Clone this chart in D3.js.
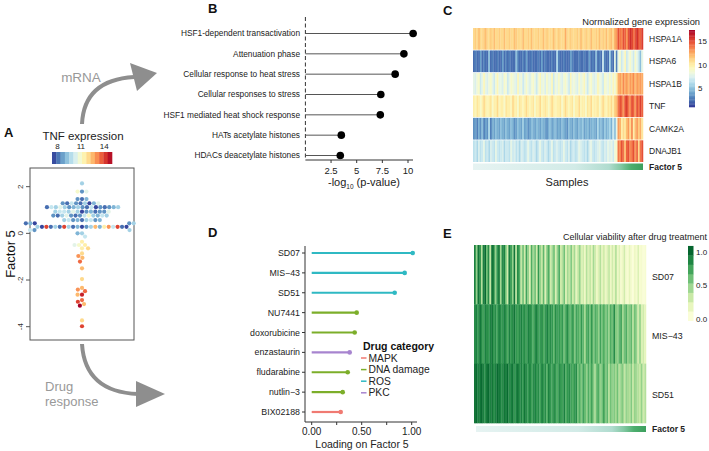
<!DOCTYPE html>
<html><head><meta charset="utf-8">
<script src="https://cdn.jsdelivr.net/npm/d3@7"></script>
<style>body{margin:0;background:#fff} svg{display:block;font-family:"Liberation Sans",Arial,Helvetica,sans-serif}</style>
</head><body>
<svg id="c" width="709" height="451"></svg>
<script>
// ---------- Panel A data (Factor 5 value, TNF expression) ----------
const factor5 = [
 0.28,0.28,0.28,0.28,0.28,0.28,0.28,0.28,0.28,0.28,0.28,0.28,0.28,0.28,0.28,0.28,0.28,0.28,0.28,0.28,0.28,
 2.14,
 1.79,1.79,1.79,
 1.47,1.47,1.47,
 1.29,1.29,1.29,1.29,1.29,1.29,1.29,1.29,1.29,
 1.12,1.12,1.12,1.12,1.12,1.12,1.12,1.12,1.12,1.12,1.12,1.12,1.12,1.12,1.12,1.12,1.12,
 0.93,0.93,0.93,0.93,0.93,0.93,0.93,0.93,0.93,0.93,0.93,0.93,0.93,
 0.76,0.76,0.76,0.76,0.76,0.76,0.76,0.76,0.76,0.76,0.76,0.76,0.76,
 0.57,0.57,0.57,0.57,0.57,0.57,0.57,0.57,0.57,
 0.43,0.43,0.43,0.43,0.43,
 0.14,0.14,0.14,
 0.00,0.00,
 -0.14,
 -0.36,-0.50,-0.50,-0.50,-0.64,-0.64,
 -0.86,-0.97,-1.05,-1.21,-1.50,-1.96,-2.34,-2.41,-2.48,-2.63,-2.63,-2.86,-2.93,-3.03,-3.10,-3.73,-3.98];
const tnf = [
 7.5,9,8.5,8,9.5,9.5,12.5,14,9,8,11.5,9.5,13,8,10,14,14,7.5,8,9.5,7.5,
 9.5,
 8.5,11,10.5,
 8,8.5,9,
 8,9.5,8.5,7.5,10,9,8,10.5,8.5,
 8.5,9.5,8,9,10,8.5,7.5,9.5,8.5,10.5,8,9.5,8.5,10,9,8,9.5,
 7.5,9.5,8.5,10.5,9,9.5,8,10,8.5,10,8.5,9.5,10.5,
 8.5,10,8,11,8.5,9.5,10.5,9,9.5,10,8,9.5,8.5,
 8,9,9.5,8.5,10,10,8.5,9.5,9,
 7.5,8.5,9,9.5,8,
 8.5,9.5,10,
 9.5,9,
 10,
 11.5,11,11.5,10.5,11.5,12,
 12,13,12.5,13.5,12.5,12,12.5,13,13.5,14.5,12.5,13.5,14,12.5,15,12,14];
const tnfTicks = [8,11,14];
const factorTicks = [2,0,-2,-4];

// ---------- Panel B data ----------
const pathways = ["HSF1-dependent transactivation","Attenuation phase","Cellular response to heat stress",
 "Cellular responses to stress","HSF1 mediated heat shock response","HATs acetylate histones","HDACs deacetylate histones"];
const negLogP = [10.5,9.6,8.75,7.35,7.3,3.5,3.4];
const pTicks = [2.5,5,7.5,10];

// ---------- Panel C data ----------
const genes = ["HSPA1A","HSPA6","HSPA1B","TNF","CAMK2A","DNAJB1"];
const hspa1a = [11,11.5,11,12,11,11,11.5,12,11,11,11.5,11,12,11,11,11.5,11,11,12,11,
 11,11.5,11,11,12,11.5,11,11,11,12,11,11,11.5,11,12,11,11,11,11.5,11,
 11,12,11,11.5,11,11,11,12,11,11,11.5,11,11,11,12.5,11,11,11.5,11,11,
 11,11.5,11,12,11,11,11.5,11,11,12,11,11,11.5,11,12,11,11.5,11,12,11,
 11.5,12,11,12.5,13,15,14,13.5,15,14.5,13,15,16,15.5,14,15,16,15,14.5,15.5];
const hspa6 = [2.5,3,2.5,2.5,4,2.5,3,2.5,2.5,5,2.5,3,2.5,2.5,3,2.5,2.5,4,2.5,3,
 2.5,3,2.5,2.5,2.5,5,3,2.5,2.5,3,2.5,4,2.5,2.5,3,2.5,2.5,2.5,3,2.5,
 4,2.5,3,2.5,2.5,2.5,3,2.5,2.5,6,3,2.5,2.5,3,2.5,2.5,2.5,4,3,2.5,
 2.5,2.5,3,2.5,2.5,3,2.5,2.5,4,2.5,3,2.5,5,2.5,3,2.5,7,3,2.5,2.5,
 6,3,2.5,8,3,8,9,7,8,9.5,7,8,9,8,7,9,8,7,5,8];
const hspa1b = [8,7.5,8.5,9,7,8,9.5,8,7.5,8.5,9,8,7,8.5,9.5,8,8,7.5,9,8.5,
 7,8,9,8.5,8,7.5,9.5,8,8.5,7,8,9,8,7.5,8.5,9,8,7,8.5,9.5,
 8,8.5,7.5,9,8,8,9.5,7,8.5,8,9,8,7.5,8.5,9,8,7,9.5,8,8.5,
 8,7.5,9,8,8.5,9.5,8,7,8.5,9,8,7.5,8,9.5,8.5,8,7,9,8.5,8,
 9,8,9.5,8.5,10,12.5,13,12,13.5,12.5,13,12,13,12.5,13.5,12,13,12.5,13,12.5];
const tnfRow = [10,9.5,10.5,10,9,10,11,10,9.5,10,10.5,9,10,10,11,9.5,10,10,9,10.5,
 10,10,9.5,11,10,10,9,10.5,10,9.5,10,11,10,9.5,10,10.5,9,10,10,11,
 9.5,10,10.5,10,9,10,11,10,9.5,10,10,10.5,9,10,11,10,9.5,10,10.5,9,
 10,10,11,9.5,10,10,9,10.5,10,11,9.5,10,10,10.5,9,10,11,10,9.5,10.5,
 10,11,10,11.5,12,14,15,14.5,13,15,15.5,14,13.5,15,14.5,13,15,14,15.5,14.5];
const camk2a = [3.5,4,3,4.5,3.5,5,3,4,3.5,6,3,4.5,4,5,4.5,4,5,4.5,4,5,
 4.5,4,5,4.5,3.5,4,5,4.5,4,5.5,4,4.5,3.5,4,5,4.5,4,5,4.5,4,
 5,4.5,4,3.5,4.5,5,4,4.5,5,4,4.5,4,5,4.5,4,3.5,5,4.5,4,5,
 4.5,4,5,4.5,5.5,4,4.5,5,4,4.5,5,4.5,4,6,4.5,5,4,5.5,4.5,5,
 6,4.5,7,5,8,13,12.5,10,11,10.5,12,13,11,13.5,10,12,13,11.5,12.5,10.5];
const dnajb1 = [6.5,7,6,7.5,6.5,7,8,6.5,7,6,7.5,7,6.5,8,7,6.5,7,7.5,6,7,
 7,6.5,8,7,7.5,6.5,7,6,7.5,7,6.5,7,8,7,6.5,7.5,7,6,7,8,
 7,6.5,7.5,7,6,7,8,6.5,7,7.5,7,6.5,7,8,7,6.5,7.5,6,7,7,
 6.5,7,8,7.5,7,6.5,7,6,7.5,8,7,6.5,7,7.5,8,7,6.5,7.5,7,8,
 7.5,8,7,8.5,9,14,13.5,15,14,12,14.5,15,13.5,14,15,13,14.5,11,14,15];
const exprTicks = [15,10,5];

// ---------- Panel D data ----------
const drugs = ["SD07","MIS\u221243","SD51","NU7441","doxorubicine","enzastaurin","fludarabine","nutlin\u22123","BIX02188"];
const loadings = [1.01,0.93,0.83,0.45,0.43,0.38,0.36,0.31,0.29];
const drugCat = ["ROS","ROS","ROS","DNA damage","DNA damage","PKC","DNA damage","DNA damage","MAPK"];
const categories = ["MAPK","DNA damage","ROS","PKC"];
const loadTicks = [0,0.25,0.5,0.75,1];

// ---------- Panel E data ----------
const eDrugs = ["SD07","MIS\u221243","SD51"];
const sd07 = [.9,.5,.95,.85,.4,.9,1,.6,.85,.35,.95,.9,.5,.8,.95,.45,.85,.9,.6,.3,.9,.8,.5,.95,.4,.85,.7,.35,
 .6,.3,.75,.5,.25,.7,.45,.6,.3,.8,.5,.35,.65,.25,.55,.7,.3,.45,.6,.25,.5,.7,.3,.4,.6,.25,.45,.35,.55,
 .3,.45,.2,.35,.5,.25,.3,.15,.4,.25,.35,.2,.45,.3,.15,.25,.4,.2,.3,.15,.25,.35,.15,.3,.2,.4,.15,.25,
 .1,.15,.3,.1,.08,.2,.1,.05,.15,.1,.25,.08,.1,.05,.08];
const mis43 = [.85,.9,.8,.95,.85,.75,.9,.85,.8,.9,.95,.8,.85,.75,.9,.85,.8,.9,.85,.7,.9,.8,.85,.95,.8,.75,.85,.9,.8,.85,
 .75,.9,.85,.8,.7,.85,.9,.75,.8,.85,.7,.8,.9,.75,.85,.8,.65,.85,.75,.8,
 .7,.8,.6,.75,.85,.65,.7,.8,.55,.75,.7,.6,.8,.65,.45,.7,.75,.6,.8,.55,.7,.65,.5,.75,.6,.7,.55,.65,.5,.7,
 .6,.85,.55,.5,.65,.75,.45,.6,.7,.5,.55,.65,.4,.6,.5,.3,.5,.25,.3,.2];
const sd51 = [.95,1,.9,.95,1,.9,.85,.95,1,.9,.95,.85,.9,1,.95,.9,.85,.95,.9,1,.85,.9,.95,.8,.9,.95,.85,.9,.8,.95,
 .85,.8,.9,.75,.85,.9,.8,.85,.75,.9,.8,.85,.7,.9,.8,.75,.85,.8,.7,.85,.8,.75,.9,.7,.8,.85,.75,.7,.8,.85,
 .6,.7,.55,.75,.65,.5,.7,.6,.75,.55,.45,.65,.7,.5,.6,.75,.55,.65,.4,.6,
 .5,.55,.45,.6,.4,.5,.55,.35,.5,.45,.4,.55,.35,.5,.45,.4,.35,.5,.3,.4];
const viabTicks = [1.0,0.5,0.0];

// ================= drawing =================
const svg = d3.select("#c");
const txt = (x,y,s,o={}) => { const t = svg.append("text").attr("x",x).attr("y",y).text(s)
  .attr("font-size",o.size||9).attr("fill",o.fill||"#222").attr("text-anchor",o.anchor||"start");
  if(o.bold) t.attr("font-weight","bold"); if(o.dy) t.attr("dy",o.dy); return t; };

// panel letters
[["A",4,137],["B",208,13],["C",443,15],["D",208,237],["E",443,238]].forEach(d=>txt(d[1],d[2],d[0],{size:13,bold:true,fill:"#111"}));

// arrows
const grey = "#8e8e8e";
svg.append("path").attr("d","M82,124 Q84,80 134,77").attr("fill","none").attr("stroke",grey).attr("stroke-width",4);
svg.append("path").attr("d","M157,73 L130,63 L137,91 Z").attr("fill",grey);
svg.append("path").attr("d","M82,344 Q85,392 138,394").attr("fill","none").attr("stroke",grey).attr("stroke-width",4);
svg.append("path").attr("d","M165,394 L136,381 L136,407 Z").attr("fill",grey);
txt(81,82,"mRNA",{size:13.5,fill:"#999",anchor:"middle"});
txt(45,391,"Drug",{size:13,fill:"#999"});
txt(45,406,"response",{size:13,fill:"#999"});

// ---- Panel A ----
const yA = d3.scaleLinear().domain([-4.57,2.8]).range([340,168]);
const tnfColor = d3.scaleSequential(t=>d3.interpolateRdYlBu(1-t)).domain([7.3,15]);
const cbA = d3.scaleLinear().domain([7.3,15]).range([52,112]);
txt(83,140,"TNF expression",{size:11.5,anchor:"middle"});
const nStep = 14, stepW = (15-7.3)/nStep;
svg.append("g").selectAll("rect").data(d3.range(nStep)).join("rect")
  .attr("x",i=>cbA(7.3+i*stepW)).attr("width",i=>cbA(7.3+(i+1)*stepW)-cbA(7.3+i*stepW)+0.3)
  .attr("y",152).attr("height",12).attr("fill",i=>tnfColor(7.3+(i+0.5)*stepW));
tnfTicks.forEach(v=>txt(cbA(v),149,v,{size:8,anchor:"middle"}));
svg.append("rect").attr("x",30).attr("y",168).attr("width",104).attr("height",172).attr("fill","none").attr("stroke","#555").attr("stroke-width",1);
factorTicks.forEach(v=>{
  svg.append("line").attr("x1",26).attr("x2",30).attr("y1",yA(v)).attr("y2",yA(v)).attr("stroke","#555");
  svg.append("text").attr("transform",`translate(23,${yA(v)}) rotate(-90)`).attr("text-anchor","middle")
    .attr("font-size",8).attr("fill","#333").text(v);
});
svg.append("text").attr("transform","translate(15,254) rotate(-90)").attr("text-anchor","middle").attr("font-size",13).attr("fill","#111").text("Factor 5");
// beeswarm layout
const Dd = 4.45, placed = [];
factor5.forEach((v,i)=>{
  const py = yA(v), iv = [];
  placed.forEach(q=>{const dy=Math.abs(py-q.y); if(dy<Dd-1e-9){const dx=Math.sqrt(Dd*Dd-dy*dy); iv.push([q.x-dx,q.x+dx]);}});
  let c=[0]; iv.forEach(a=>c.push(a[0],a[1]));
  c = c.filter(x=>iv.every(a=>x<=a[0]+1e-6||x>=a[1]-1e-6));
  c.sort((a,b)=>(Math.round(Math.abs(a)*1000)-Math.round(Math.abs(b)*1000))||(a-b));
  placed.push({x:c[0],y:py,t:tnf[i]});
});
svg.append("g").selectAll("circle").data(placed).join("circle")
  .attr("cx",d=>82+d.x).attr("cy",d=>d.y).attr("r",2.1).attr("fill",d=>tnfColor(d.t));

// ---- Panel B ----
const xB = d3.scaleLinear().domain([0,10]).range([305.4,408]);
const yB = d3.scalePoint().domain(pathways).range([33.5,155.5]);
svg.append("line").attr("x1",305.4).attr("x2",305.4).attr("y1",17).attr("y2",160).attr("stroke","#333").attr("stroke-dasharray","4,2.5");
const gB = svg.append("g");
pathways.forEach((p,i)=>{
  gB.append("line").attr("x1",xB(0)).attr("x2",xB(negLogP[i])).attr("y1",yB(p)).attr("y2",yB(p)).attr("stroke","#555").attr("stroke-width",1);
  gB.append("circle").attr("cx",xB(negLogP[i])).attr("cy",yB(p)).attr("r",3.8).attr("fill","#000");
  txt(300,yB(p),p,{size:8.3,anchor:"end",dy:"0.35em"});
});
svg.append("line").attr("x1",305.4).attr("x2",413).attr("y1",160).attr("y2",160).attr("stroke","#333");
pTicks.forEach(v=>{
  svg.append("line").attr("x1",xB(v)).attr("x2",xB(v)).attr("y1",160).attr("y2",163).attr("stroke","#333");
  txt(xB(v),174,v,{size:9.5,anchor:"middle"});
});
const lab = svg.append("text").attr("x",364).attr("y",186).attr("text-anchor","middle").attr("font-size",11).attr("fill","#222");
lab.append("tspan").text("-log");
lab.append("tspan").attr("font-size",6.5).attr("dy",3).text("10");
lab.append("tspan").attr("dy",-3).text(" (p-value)");

// ---- Panel C ----
const exprColor = d3.scaleSequential(t=>d3.interpolateRdYlBu(1-t)).domain([1,17.5]);
const rowsC = [hspa1a,hspa6,hspa1b,tnfRow,camk2a,dnajb1];
const xC = d3.scaleBand().domain(d3.range(hspa1a.length)).range([473,643]);
const yC = d3.scaleBand().domain(genes).range([28,162]).paddingInner(0.035);
const gC = svg.append("g");
rowsC.forEach((row,r)=>{
  gC.selectAll(null).data(row).join("rect").attr("x",(d,i)=>xC(i)).attr("width",xC.bandwidth()+0.25)
    .attr("y",yC(genes[r])).attr("height",yC.bandwidth()).attr("fill",d=>exprColor(d));
  txt(649,yC(genes[r])+yC.bandwidth()/2,genes[r],{size:8.5,dy:"0.35em"});
});
txt(700,25,"Normalized gene expression",{size:9.3,anchor:"end"});
const cbC = d3.scaleLinear().domain([1,17.5]).range([107,30]);
svg.append("g").selectAll("rect").data(d3.range(60)).join("rect")
  .attr("x",689).attr("width",6).attr("y",i=>cbC(1+(i+1)*16.5/60)).attr("height",77/60+0.3)
  .attr("fill",i=>exprColor(1+(i+0.5)*16.5/60));
exprTicks.forEach(v=>txt(698,cbC(v),v,{size:8,dy:"0.35em"}));
const defs = svg.append("defs");
const grad = defs.append("linearGradient").attr("id","fgrad");
[[0,"#e6f3f2"],[0.6,"#d2ebe7"],[0.8,"#b0dccf"],[0.87,"#82c8a3"],[0.93,"#4dae6e"],[1,"#3c9f5d"]].forEach(s=>grad.append("stop").attr("offset",s[0]).attr("stop-color",s[1]));
svg.append("rect").attr("x",473).attr("y",163.5).attr("width",170).attr("height",6.5).attr("fill","url(#fgrad)");
txt(649,167,"Factor 5",{size:8.5,bold:true,dy:"0.35em"});
txt(567,186,"Samples",{size:11,anchor:"middle"});

// ---- Panel D ----
const xD = d3.scaleLinear().domain([0,1]).range([311.7,411.7]);
const yD = d3.scalePoint().domain(drugs).range([253,412]);
const catColor = d3.scaleOrdinal().domain(categories).range(["#f07a72","#7cae2a","#2fb9c3","#a784cf"]);
svg.append("line").attr("x1",305).attr("x2",305).attr("y1",246).attr("y2",422).attr("stroke","#333");
svg.append("line").attr("x1",305).attr("x2",417).attr("y1",422).attr("y2",422).attr("stroke","#333");
drugs.forEach((d,i)=>{
  svg.append("line").attr("x1",302).attr("x2",305).attr("y1",yD(d)).attr("y2",yD(d)).attr("stroke","#333");
  txt(300,yD(d),d,{size:8.8,anchor:"end",dy:"0.35em"});
  svg.append("line").attr("x1",xD(0)).attr("x2",xD(loadings[i])).attr("y1",yD(d)).attr("y2",yD(d)).attr("stroke",catColor(drugCat[i])).attr("stroke-width",2.2);
  svg.append("circle").attr("cx",xD(loadings[i])).attr("cy",yD(d)).attr("r",2.3).attr("fill",catColor(drugCat[i]));
});
loadTicks.forEach(v=>{
  svg.append("line").attr("x1",xD(v)).attr("x2",xD(v)).attr("y1",422).attr("y2",425).attr("stroke","#333");
  if(v===0||v===0.5||v===1) txt(xD(v),434.5,v.toFixed(2),{size:10,anchor:"middle"});
});
txt(362,448,"Loading on Factor 5",{size:10.5,anchor:"middle"});
txt(363,350,"Drug category",{size:10.5,bold:true,fill:"#111"});
categories.forEach((c,i)=>{
  const y = 358+i*11.6;
  svg.append("line").attr("x1",361).attr("x2",366.5).attr("y1",y).attr("y2",y).attr("stroke",catColor(c)).attr("stroke-width",1.5);
  txt(368.5,y,c,{size:10.3,dy:"0.35em"});
});

// ---- Panel E ----
const viabColor = d3.scaleSequential(d3.interpolateRgbBasis(["#ffffe0","#eef8c0","#c6e8a3","#8ccf88","#4dae62","#1e8743","#005e2a"])).domain([0,1.05]);
const rowsE = [sd07,mis43,sd51];
const xE = d3.scaleBand().domain(d3.range(sd07.length)).range([474,646]);
const yE = d3.scaleBand().domain(eDrugs).range([245,423]);
rowsE.forEach((row,r)=>{
  svg.append("g").selectAll("rect").data(row).join("rect").attr("x",(d,i)=>xE(i)).attr("width",xE.bandwidth()+0.25)
    .attr("y",yE(eDrugs[r])).attr("height",yE.bandwidth()+0.3).attr("fill",d=>viabColor(d));
  txt(652,yE(eDrugs[r])+yE.bandwidth()/2+2,eDrugs[r],{size:8.8,dy:"0.35em"});
});
txt(707,240,"Cellular viability after drug treatment",{size:9,anchor:"end"});
const cbE = d3.scaleLinear().domain([0,1]).range([319.3,252]);
const eSteps = 8, eTop = 1.09, eBot = -0.02, eStepV = (eTop-eBot)/eSteps;
svg.append("g").selectAll("rect").data(d3.range(eSteps)).join("rect")
  .attr("x",688).attr("width",5.5).attr("y",i=>cbE(eBot+(i+1)*eStepV)).attr("height",cbE(0)-cbE(eStepV)+0.3)
  .attr("fill",i=>viabColor(eBot+(i+0.5)*eStepV));
viabTicks.forEach(v=>txt(696,cbE(v),v.toFixed(1),{size:8,dy:"0.35em"}));
svg.append("rect").attr("x",476).attr("y",426).attr("width",170).attr("height",6).attr("fill","url(#fgrad)");
txt(652,429,"Factor 5",{size:8.5,bold:true,dy:"0.35em"});
</script></body></html>
